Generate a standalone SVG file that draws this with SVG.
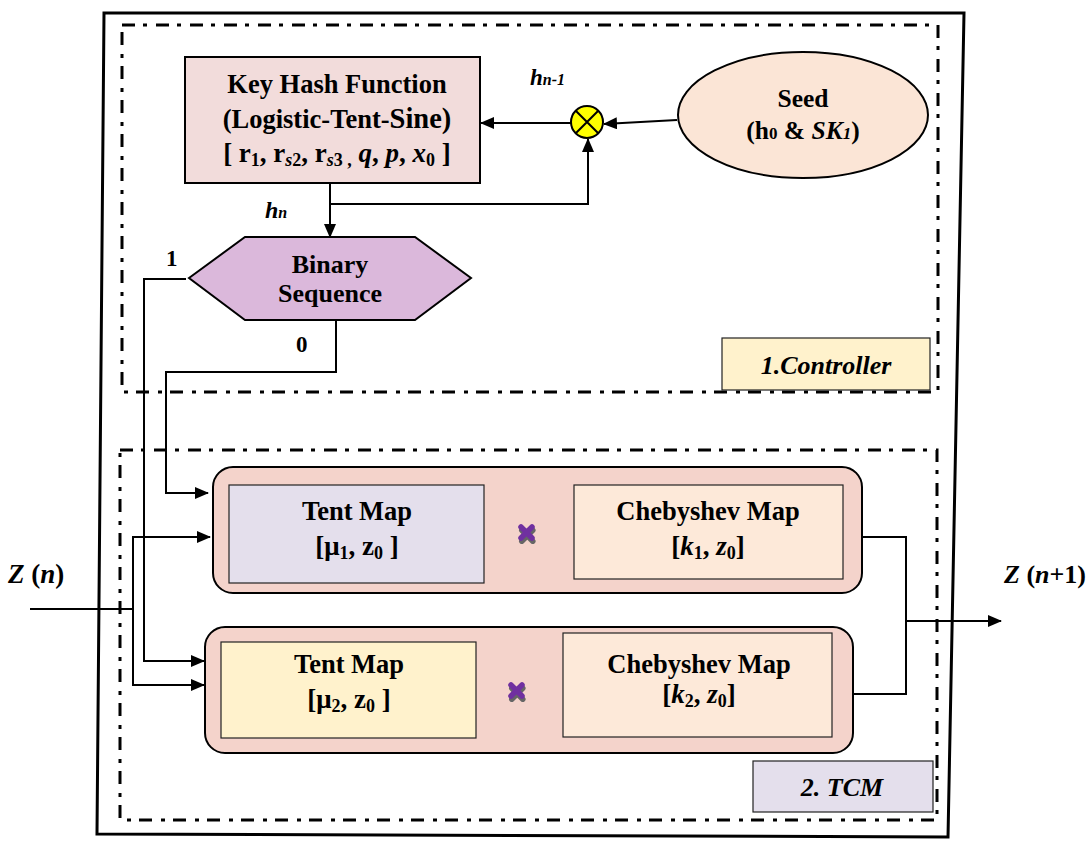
<svg xmlns="http://www.w3.org/2000/svg" width="1090" height="842" viewBox="0 0 1090 842">
<style>
text{font-family:"Liberation Serif","Times New Roman",serif;font-weight:bold;fill:#000}
.it{font-style:italic}
.c{text-anchor:middle}
.dd{fill:none;stroke:#000;stroke-width:3;stroke-dasharray:13 8 4 9}
.ln{fill:none;stroke:#000;stroke-width:2}
.bx{stroke:#000;stroke-width:2}
.ib{stroke:#222;stroke-width:1.2}
.xm{stroke:#7030a0;stroke-width:5.5;stroke-linecap:round}
.xs{stroke:#666;stroke-width:5.5;stroke-linecap:round}
</style>
<defs>
<marker id="ah" markerWidth="14" markerHeight="12" refX="13" refY="6" orient="auto" markerUnits="userSpaceOnUse"><path d="M0,0 L14,6 L0,12 z" fill="#000"/></marker>
</defs>
<rect width="1090" height="842" fill="#fff"/>
<g id="frame">
<polygon points="104,13 964,13 948,837 97,834" fill="none" stroke="#000" stroke-width="3"/>
<rect class="dd" x="122" y="25" width="816" height="367"/>
<rect class="dd" x="120" y="450" width="817" height="370"/>
</g>
<g id="controller-label">
<rect x="722" y="338" width="208" height="52" fill="#fff2cc" stroke="#222" stroke-width="1.2"/>
<text class="c it" x="826" y="374" font-size="26">1.Controller</text>
</g>
<g id="tcm-label">
<rect x="753" y="761" width="180" height="51" fill="#e4dfec" stroke="#222" stroke-width="1.2"/>
<text class="c it" x="842" y="796" font-size="26">2. TCM</text>
</g>
<g id="key-hash">
<rect class="bx" x="185" y="57" width="295" height="126" fill="#f2dcdb"/>
<text class="c" x="337" y="93" font-size="26.5">Key Hash Function</text>
<text class="c" x="337" y="128" font-size="26.5">(Logistic-Tent-<tspan font-size="28.5">Sine)</tspan></text>
<text class="c" x="337" y="162" font-size="27">[ r<tspan font-size="18" dy="4">1</tspan><tspan dy="-4">, r</tspan><tspan class="it" font-size="18" dy="4">s</tspan><tspan font-size="18">2</tspan><tspan dy="-4">, r</tspan><tspan class="it" font-size="18" dy="4">s</tspan><tspan font-size="18">3 ,</tspan><tspan dy="-4"> </tspan><tspan class="it">q</tspan>, <tspan class="it">p</tspan>, <tspan class="it">x</tspan><tspan font-size="18" dy="4">0</tspan><tspan dy="-4"> ]</tspan></text>
</g>
<g id="xor">
<circle cx="587" cy="122" r="16" fill="#ffff00" stroke="#000" stroke-width="2"/>
<path d="M576,111 L598,133 M598,111 L576,133" stroke="#000" stroke-width="2"/>
</g>
<g id="seed">
<ellipse class="bx" cx="803" cy="115" rx="125" ry="63" fill="#fbe5d6"/>
<text class="c" x="803" y="107" font-size="25.5">Seed</text>
<text class="c" x="803" y="139" font-size="25.5">(h<tspan font-size="17">0</tspan> &amp; <tspan class="it">SK</tspan><tspan class="it" font-size="17">1</tspan>)</text>
</g>
<g id="binary">
<polygon class="bx" points="189,278 245,237 415,237 471,278 415,320 245,320" fill="#dbb8db"/>
<text class="c" x="330" y="273" font-size="26">Binary</text>
<text class="c" x="330" y="302" font-size="26">Sequence</text>
</g>
<g id="tcm1">
<rect class="bx" x="213" y="467" width="649" height="126" rx="20" fill="#f4d3cb"/>
<rect class="ib" x="229" y="485" width="255" height="98" fill="#e4dfec"/>
<text class="c" x="357" y="520" font-size="26.5">Tent Map</text>
<text class="c" x="357" y="555" font-size="27">[μ<tspan font-size="18" dy="4">1</tspan><tspan dy="-4">, z</tspan><tspan font-size="18" dy="4">0</tspan><tspan dy="-4"> ]</tspan></text>
<rect class="ib" x="574" y="485" width="269" height="94" fill="#fde9d9"/>
<text class="c" x="708" y="520" font-size="26.5">Chebyshev Map</text>
<text class="c" x="708" y="555" font-size="27">[<tspan class="it">k</tspan><tspan font-size="18" dy="4">1</tspan><tspan dy="-4">, </tspan><tspan class="it">z</tspan><tspan font-size="18" dy="4">0</tspan><tspan dy="-4">]</tspan></text>
<path class="xs" d="M521,529 L532,540 M532,529 L521,540" transform="translate(0.8,1.2)"/>
<path class="xm" d="M521,527 L532,538 M532,527 L521,538"/>
</g>
<g id="tcm2">
<rect class="bx" x="205" y="627" width="648" height="126" rx="20" fill="#f4d3cb"/>
<rect class="ib" x="221" y="642" width="255" height="96" fill="#fff2cc"/>
<text class="c" x="349" y="673" font-size="26.5">Tent Map</text>
<text class="c" x="349" y="708" font-size="27">[μ<tspan font-size="18" dy="4">2</tspan><tspan dy="-4">, z</tspan><tspan font-size="18" dy="4">0</tspan><tspan dy="-4"> ]</tspan></text>
<rect class="ib" x="563" y="633" width="269" height="104" fill="#fde9d9"/>
<text class="c" x="699" y="673" font-size="26.5">Chebyshev Map</text>
<text class="c" x="699" y="703" font-size="27">[<tspan class="it">k</tspan><tspan font-size="18" dy="4">2</tspan><tspan dy="-4">, </tspan><tspan class="it">z</tspan><tspan font-size="18" dy="4">0</tspan><tspan dy="-4">]</tspan></text>
<path class="xs" d="M511,687 L522,698 M522,687 L511,698" transform="translate(0.8,1.2)"/>
<path class="xm" d="M511,685 L522,696 M522,685 L511,696"/>
</g>
<g id="connectors">
<path class="ln" d="M677,120 L604,124" marker-end="url(#ah)"/>
<path class="ln" d="M571,123 L481,123" marker-end="url(#ah)"/>
<path class="ln" d="M330,183 L330,237" marker-end="url(#ah)"/>
<path class="ln" d="M330,204 L588,204 L588,139" marker-end="url(#ah)"/>
<path class="ln" d="M186,279 L144,279 L144,661 L204,661" marker-end="url(#ah)"/>
<path class="ln" d="M336,320 L336,372 L166,372 L166,493 L208,493" marker-end="url(#ah)"/>
<path class="ln" d="M30,609 L133,609"/>
<path class="ln" d="M133,609 L133,537 L210,537" marker-end="url(#ah)"/>
<path class="ln" d="M133,609 L133,685 L204,685" marker-end="url(#ah)"/>
<path class="ln" d="M862,537 L906,537 L906,694 L853,694"/>
<path class="ln" d="M906,621 L1001,621" marker-end="url(#ah)"/>
</g>
<g id="labels">
<text class="it" x="530" y="85" font-size="23">h<tspan font-size="16">n-1</tspan></text>
<text class="it" x="265" y="218" font-size="24">h<tspan font-size="16">n</tspan></text>
<text x="166" y="266" font-size="23">1</text>
<text x="296" y="352" font-size="23">0</text>
<text x="8" y="583" font-size="27"><tspan class="it">Z</tspan> (<tspan class="it">n</tspan>)</text>
<text x="1004" y="583" font-size="26"><tspan class="it">Z</tspan> (<tspan class="it">n</tspan>+1)</text>
</g>
</svg>
